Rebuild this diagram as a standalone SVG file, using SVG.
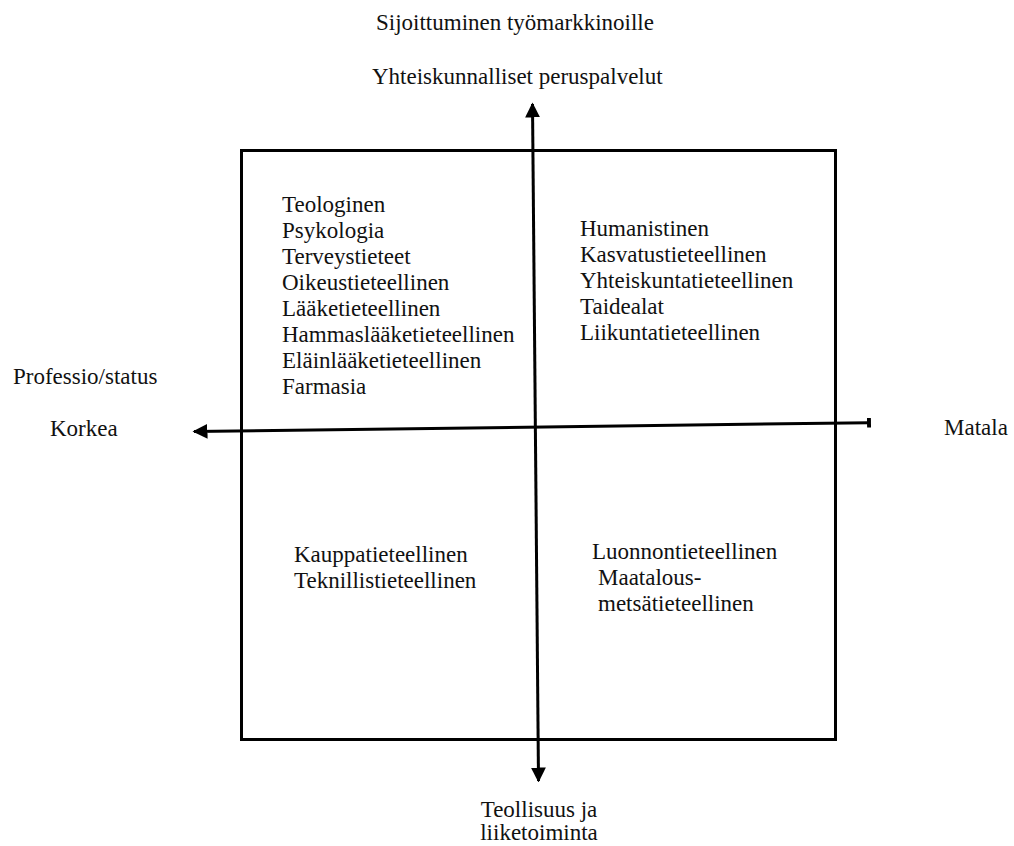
<svg xmlns="http://www.w3.org/2000/svg" width="1014" height="846" viewBox="0 0 1014 846">
<style>
text{font-family:"Liberation Serif","Times New Roman",serif;font-size:23px;fill:#111}
.ax{stroke:#000;stroke-width:3;fill:none}
</style>
<defs>
<marker id="ah" viewBox="0 0 10 10" refX="9" refY="5" markerWidth="5" markerHeight="5" orient="auto-start-reverse" markerUnits="strokeWidth">
<path d="M0,0 L10,5 L0,10 Z" fill="#000"/>
</marker>
<marker id="tick" viewBox="0 0 4 10" refX="2" refY="5" markerWidth="1.3" markerHeight="3.3" orient="auto" markerUnits="strokeWidth">
<rect x="0" y="0" width="4" height="10" fill="#000"/>
</marker>
</defs>
<rect width="1014" height="846" fill="#fff"/>
<g id="frame"><rect x="241.5" y="150.5" width="594" height="589" class="ax"/></g>
<g id="connectors">
<line x1="538.5" y1="781" x2="532.5" y2="104" class="ax" marker-start="url(#ah)" marker-end="url(#ah)"/>
<line x1="869" y1="422.7" x2="194" y2="431.5" class="ax" marker-start="url(#tick)" marker-end="url(#ah)"/>
</g>
<g id="top-labels">
<text x="376" y="30">Sijoittuminen työmarkkinoille</text>
<text x="372" y="84">Yhteiskunnalliset peruspalvelut</text>
</g>
<g id="bottom-label">
<text x="539" y="817" text-anchor="middle">Teollisuus ja</text>
<text x="539" y="840" text-anchor="middle">liiketoiminta</text>
</g>
<g id="left-label">
<text x="13" y="384">Professio/status</text>
<text x="50" y="436">Korkea</text>
</g>
<g id="right-label"><text x="944" y="435">Matala</text></g>
<g id="q-top-left">
<text x="282" y="212">Teologinen</text>
<text x="282" y="238">Psykologia</text>
<text x="282" y="264">Terveystieteet</text>
<text x="282" y="290">Oikeustieteellinen</text>
<text x="282" y="316">Lääketieteellinen</text>
<text x="282" y="342">Hammaslääketieteellinen</text>
<text x="282" y="368">Eläinlääketieteellinen</text>
<text x="282" y="394">Farmasia</text>
</g>
<g id="q-top-right">
<text x="580" y="236">Humanistinen</text>
<text x="580" y="262">Kasvatustieteellinen</text>
<text x="580" y="288">Yhteiskuntatieteellinen</text>
<text x="580" y="314">Taidealat</text>
<text x="580" y="340">Liikuntatieteellinen</text>
</g>
<g id="q-bottom-left">
<text x="294" y="562">Kauppatieteellinen</text>
<text x="294" y="588">Teknillistieteellinen</text>
</g>
<g id="q-bottom-right">
<text x="592" y="559">Luonnontieteellinen</text>
<text x="598" y="585">Maatalous-</text>
<text x="598" y="611">metsätieteellinen</text>
</g>
</svg>
